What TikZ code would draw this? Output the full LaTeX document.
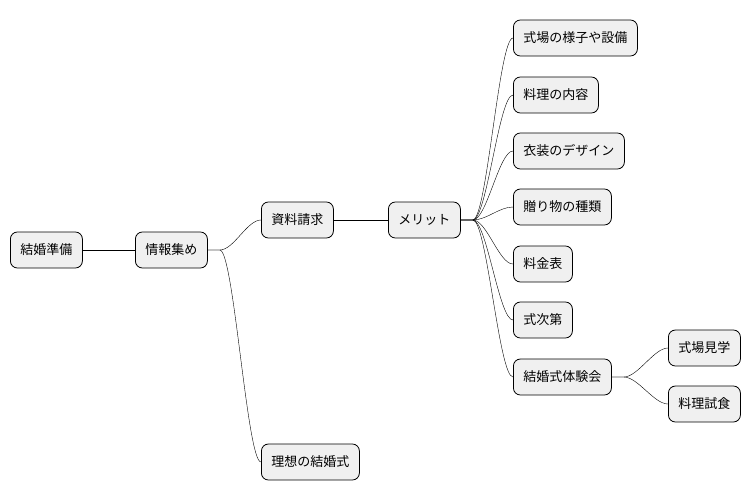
\documentclass[tikz,border=0pt]{standalone}
\usepackage{fontspec}
\setmainfont{Noto Sans CJK JP}
\usepackage{tikz}
\usetikzlibrary{positioning}
\tikzset{
    topic/.style={draw, thick, rounded corners=7pt, fill=gray!12, anchor=west,
        minimum height=36pt, inner xsep=10pt, font=\fontsize{13pt}{15pt}\selectfont}, % every box of the map
    branch/.style={thin}, % the curved connectors
}
\newcommand{\branchto}[2]{\draw[branch] (#1.east) -- ++(12,0) .. controls +(14,0) and +(-14,0) .. (#2.west);}

\begin{document}
\begin{tikzpicture}[x=1pt, y=-1pt]
    \useasboundingbox (0,0) rectangle (754,499);
    \node[topic] (jyunbi) at (10,250) {結婚準備};
    \node[topic] (atsume) at (135,250) {情報集め};
    \node[topic] (seikyu) at (261,220) {資料請求};
    \node[topic] (riso) at (261,462) {理想の結婚式};
    \node[topic] (merit) at (388,220) {メリット};
    \node[topic] (m1) at (513,38) {式場の様子や設備};
    \node[topic] (m2) at (513,95) {料理の内容};
    \node[topic] (m3) at (513,151) {衣装のデザイン};
    \node[topic] (m4) at (513,207) {贈り物の種類};
    \node[topic] (m5) at (513,264) {料金表};
    \node[topic] (m6) at (513,320) {式次第};
    \node[topic] (m7) at (513,377) {結婚式体験会};
    \node[topic] (kengaku) at (668,348) {式場見学};
    \node[topic] (shishoku) at (668,404) {料理試食};
    % connectors
    \draw[branch] (jyunbi) -- (atsume);
    \branchto{atsume}{seikyu}
    \branchto{atsume}{riso}
    \draw[branch] (seikyu) -- (merit);
    \foreach \m in {m1,m2,m3,m4,m5,m6,m7}{
        \branchto{merit}{\m}
    }
    \branchto{m7}{kengaku}
    \branchto{m7}{shishoku}
\end{tikzpicture}
\end{document}
